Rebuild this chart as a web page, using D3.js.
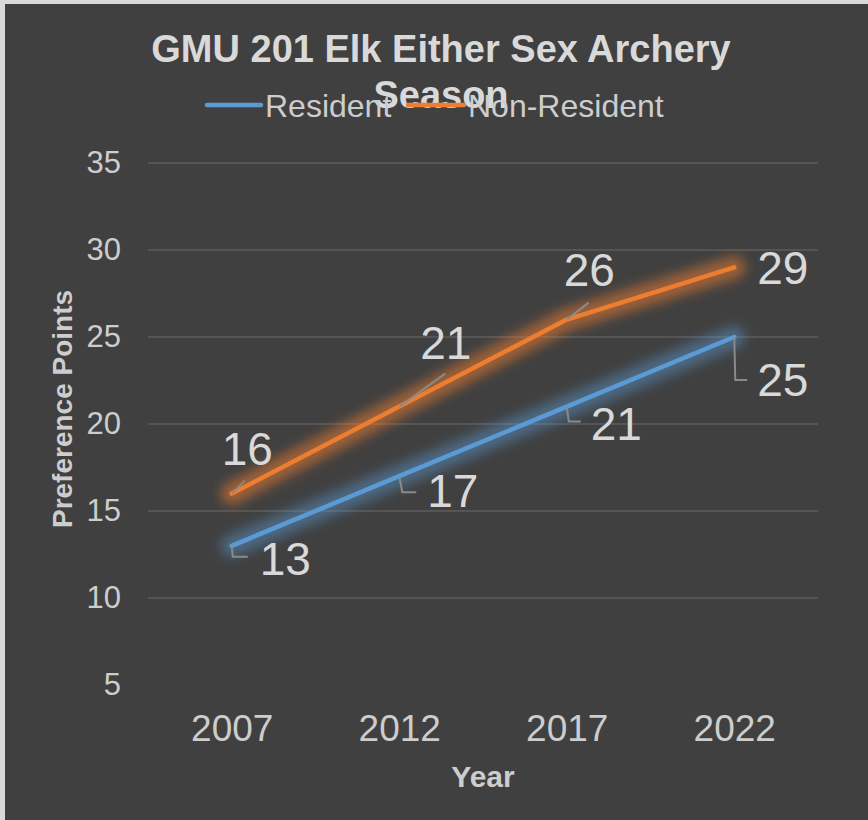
<!DOCTYPE html>
<html>
<head>
<meta charset="utf-8">
<script src="https://cdn.jsdelivr.net/npm/d3@7"></script>
<style>
  html, body { margin: 0; padding: 0; background: #d9d9d9; }
  svg { display: block; }
  text { font-family: "Liberation Sans", Arial, sans-serif; }
</style>
</head>
<body>
<div id="chart"></div>
<script>
// chart data
var years = ["2007", "2012", "2017", "2022"];
var resident = [13, 17, 21, 25];
var nonResident = [16, 21, 26, 29];
var yTicks = [5, 10, 15, 20, 25, 30, 35];
var seriesNames = ["Resident", "Non-Resident"];

// where excel put the data labels (offsets from the point, px) and their leader lines
var resLabelPos = [[28, 29], [28, 31], [24, 33], [23, 59]];
var resLeaders = [[[1, 11], [16, 11]], [[3, 16], [17, 16]], [[2, 15], [14, 15]], [[1, 43], [13, 43]]];
var nonLabelPos = [[-10, -29], [21, -48], [-3, -34], [23, 17]];
var nonLeaders = [[[13, -13]], [[46, -33]], [[22, -17]], null];

var W = 868, H = 820;
var plot = {left: 148, right: 818, top: 163, bottom: 685};
var colors = ["#5b9bd5", "#ed7d31"];

var svg = d3.select("#chart").append("svg").attr("width", W).attr("height", H);

// blur for the glow
var defs = svg.append("defs");
defs.append("filter").attr("id", "glow").attr("x", "-20%").attr("y", "-50%").attr("width", "140%").attr("height", "200%")
  .append("feGaussianBlur").attr("stdDeviation", 6);

// chart area (light border shows on top and left)
svg.append("rect").attr("x", 5).attr("y", 4).attr("width", W - 5).attr("height", H - 4).attr("fill", "#404040");

// scales
var x = d3.scalePoint().domain(years).range([plot.left, plot.right]).padding(0.5);
var y = d3.scaleLinear().domain([5, 35]).range([plot.bottom, plot.top]);

// gridlines (none on the bottom value)
svg.append("g").selectAll("line").data(yTicks.filter(function(d) { return d > 5; })).enter().append("line")
  .attr("x1", plot.left).attr("x2", plot.right)
  .attr("y1", function(d) { return y(d); }).attr("y2", function(d) { return y(d); })
  .attr("stroke", "#5c5c5c").attr("stroke-width", 1.5);

// Y axis labels
var yAxis = svg.append("g").attr("transform", "translate(" + (plot.left - 27) + ",0)")
  .call(d3.axisLeft(y).tickValues(yTicks).tickSize(0).tickPadding(0));
yAxis.select(".domain").remove();
yAxis.selectAll("text").attr("font-size", 31).attr("fill", "#cdcdcd").attr("font-family", "Liberation Sans, Arial, sans-serif");

// X axis labels
var xAxis = svg.append("g").attr("transform", "translate(0," + (plot.bottom + 30) + ")")
  .call(d3.axisBottom(x).tickSize(0).tickPadding(0));
xAxis.select(".domain").remove();
xAxis.selectAll("text").attr("font-size", 37).attr("fill", "#cdcdcd").attr("font-family", "Liberation Sans, Arial, sans-serif");

// axis titles
svg.append("text").attr("x", 483).attr("y", 787).attr("text-anchor", "middle")
  .attr("font-size", 30).attr("font-weight", "bold").attr("fill", "#cdcdcd").text("Year");
svg.append("text").attr("transform", "translate(72,409) rotate(-90)").attr("text-anchor", "middle")
  .attr("font-size", 28).attr("font-weight", "bold").attr("fill", "#cdcdcd").text("Preference Points");

// title
var title = svg.append("text").attr("text-anchor", "middle").attr("font-size", 38).attr("font-weight", "bold").attr("fill", "#d9d9d9");
title.append("tspan").attr("x", 441).attr("y", 62).text("GMU 201 Elk Either Sex Archery");
title.append("tspan").attr("x", 441).attr("y", 108).text("Season");

// lines with glow
var line = d3.line().x(function(d, i) { return x(years[i]); }).y(function(d) { return y(d); });
var allSeries = [resident, nonResident];
var glowOpacity = [0.45, 0.55];
allSeries.forEach(function(s, k) {
  svg.append("path").attr("d", line(s)).attr("fill", "none")
    .attr("stroke", colors[k]).attr("stroke-width", 22).attr("stroke-linecap", "round").attr("stroke-linejoin", "round")
    .attr("opacity", glowOpacity[k]).attr("filter", "url(#glow)");
  svg.append("path").attr("d", line(s)).attr("fill", "none")
    .attr("stroke", colors[k]).attr("stroke-width", 4.5).attr("stroke-linecap", "round").attr("stroke-linejoin", "round");
});

// data labels with leader lines
function drawLabels(s, pos, leaders) {
  s.forEach(function(v, i) {
    var px = x(years[i]), py = y(v);
    if (leaders[i]) {
      var pts = [[px, py]].concat(leaders[i].map(function(p) { return [px + p[0], py + p[1]]; }));
      svg.append("path").attr("d", d3.line()(pts)).attr("fill", "none").attr("stroke", "#8a8a8a").attr("stroke-width", 2);
    }
    svg.append("text").attr("x", px + pos[i][0]).attr("y", py + pos[i][1])
      .attr("font-size", 46).attr("fill", "#d9d9d9").text(v);
  });
}
drawLabels(resident, resLabelPos, resLeaders);
drawLabels(nonResident, nonLabelPos, nonLeaders);

// legend (drawn last, sits over the title's second line like the original)
var legendX = [[207, 261], [408, 464]];
seriesNames.forEach(function(n, k) {
  svg.append("line").attr("x1", legendX[k][0]).attr("x2", legendX[k][1]).attr("y1", 105).attr("y2", 105)
    .attr("stroke", colors[k]).attr("stroke-width", 4.5).attr("stroke-linecap", "round");
  svg.append("text").attr("x", legendX[k][1] + 4).attr("y", 117).attr("font-size", 32).attr("fill", "#cdcdcd").text(n);
});
</script>
</body>
</html>
